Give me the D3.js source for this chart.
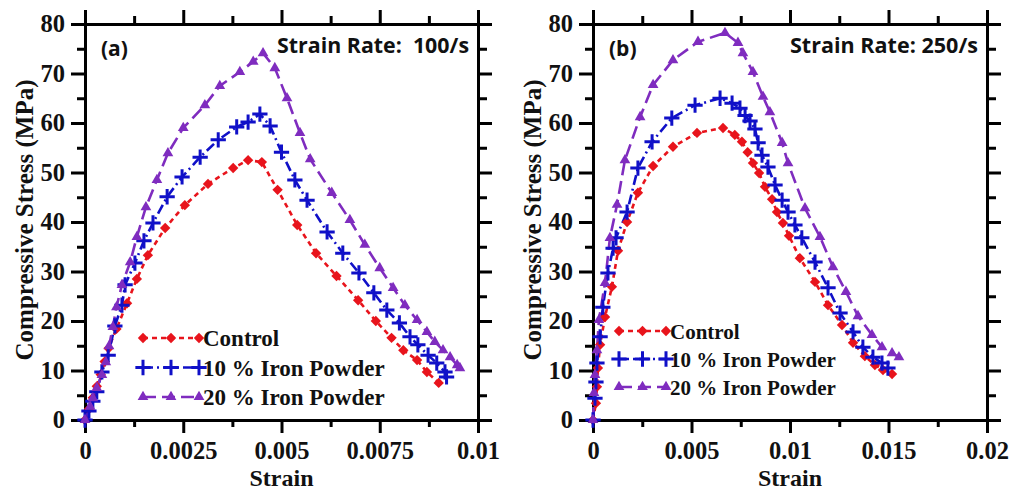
<!DOCTYPE html>
<html>
<head>
<meta charset="utf-8">
<script src="https://cdnjs.cloudflare.com/ajax/libs/d3/7.8.5/d3.min.js"></script>
<style>
  body { margin: 0; background: #fff; }
  .tick text { font-family: "Liberation Serif", "Times New Roman", serif; font-weight: bold; font-size: 24.5px; fill: #111; }
  .axis path, .axis line { stroke: #000; stroke-width: 3; }
  .title { font-family: "Liberation Serif", "Times New Roman", serif; font-weight: bold; font-size: 25px; fill: #111; }
  .xtitle { font-size: 24px; }
  .leg { font-family: "Liberation Serif", "Times New Roman", serif; font-weight: bold; fill: #111; }
  .note { font-family: "Open Sans", sans-serif; font-weight: bold; font-size: 21px; fill: #111; white-space: pre; }
</style>
</head>
<body>
<svg id="chart" width="1010" height="491"></svg>
<script>
// values: [strain, stress MPa]
var controlA = [[0,0],[0.0001,2.2],[0.0002,4.5],[0.0003,6.8],[0.0004,9.2],[0.0005,11.8],[0.0006,14.5],[0.0008,18.4],[0.00107,23.6],[0.00132,28.5],[0.0016,33.3],[0.00204,38.8],[0.00254,43.4],[0.00313,47.7],[0.00377,50.9],[0.00415,52.5],[0.0045,52.1],[0.0049,46.5],[0.0054,39.4],[0.00588,33.7],[0.0064,29.1],[0.00695,24.2],[0.0074,20.0],[0.0078,16.6],[0.0081,14.1],[0.00845,12.1],[0.0087,9.7],[0.009,7.5]];
var tenA = [[0,0],[0.0001,1.8],[0.0002,3.8],[0.0003,5.7],[0.00043,9.7],[0.00059,13.1],[0.00076,19],[0.00094,23.2],[0.00102,27.3],[0.00127,31.7],[0.0015,36.2],[0.00173,39.8],[0.00209,45.1],[0.00247,49.1],[0.00293,53.1],[0.00339,56.6],[0.00386,59.2],[0.00415,60.2],[0.00445,61.8],[0.00471,59.4],[0.005,54.1],[0.00534,48.5],[0.00565,44.4],[0.00616,38.0],[0.00656,33.7],[0.00697,29.7],[0.00735,25.7],[0.00768,22.2],[0.008,19.6],[0.00827,16.8],[0.00847,15.2],[0.00873,13.1],[0.00895,11.5],[0.00916,9.7],[0.0092,8.7]];
var twentyA = [[0,0],[0.00013,2.7],[0.0002,4.4],[0.0003,6.5],[0.00043,9.1],[0.00053,11.7],[0.00061,14.9],[0.00071,18.8],[0.0008,22.8],[0.00094,27.3],[0.00115,31.9],[0.00132,37],[0.00155,43],[0.00183,48.5],[0.00211,53.9],[0.0025,59],[0.00305,63.6],[0.00343,67.5],[0.00394,70.3],[0.00428,72.4],[0.00453,74.1],[0.00483,71.1],[0.00514,65],[0.00547,58],[0.00573,52.7],[0.00628,45.9],[0.00674,40.4],[0.00712,35.4],[0.0075,30.7],[0.00784,26.7],[0.00814,23.2],[0.00845,20.2],[0.0087,17.8],[0.0089,15.8],[0.00911,14.1],[0.00929,12.7],[0.00947,11.1],[0.00954,10.5]];

var controlB = [[0,0],[0.00015,3.4],[0.0002,6.7],[0.00025,10.5],[0.00036,15.2],[0.00061,20.8],[0.00096,26.9],[0.00127,34.2],[0.00173,40],[0.00228,45.9],[0.00305,51.3],[0.00406,55.2],[0.00528,58],[0.0066,59],[0.0072,57.6],[0.00756,56.2],[0.00785,54.1],[0.00812,51.9],[0.00843,49.9],[0.00873,47.1],[0.00909,44.6],[0.00934,42],[0.00964,39.8],[0.00995,37.2],[0.0105,32.7],[0.01127,27.9],[0.01193,23.2],[0.01264,19.2],[0.0132,15.6],[0.0138,12.9],[0.01431,11.1],[0.01472,10.1],[0.01518,9.3]];
var tenB = [[0,0],[0.0001,4.4],[0.00015,7.7],[0.0002,11.5],[0.00036,16.8],[0.0005,22.8],[0.00076,29.7],[0.00102,34.7],[0.00117,36.8],[0.00173,42],[0.00228,50.9],[0.003,56.2],[0.004,61],[0.00518,63.6],[0.00645,65],[0.00706,64],[0.00746,63],[0.00772,61.5],[0.00797,60.4],[0.00822,58.8],[0.00838,56],[0.00858,53.5],[0.00888,51.1],[0.00924,47.5],[0.0096,44.4],[0.0099,42],[0.01025,39.4],[0.0106,36.8],[0.01127,31.9],[0.01193,26.7],[0.01254,21.6],[0.0132,17.8],[0.0137,14.7],[0.01421,12.7],[0.01467,11.5],[0.01497,10.5]];
var twentyB = [[0,0],[0.00005,5.5],[0.0001,9.1],[0.0002,14.1],[0.0003,20.2],[0.00061,27.7],[0.00086,36.8],[0.00122,43.5],[0.00162,52.5],[0.00239,61.2],[0.00305,67.7],[0.00406,72.7],[0.00533,76.4],[0.0067,78.2],[0.00736,76.2],[0.00761,74.1],[0.00812,70.3],[0.00863,65.3],[0.00898,62.2],[0.0096,56],[0.0099,51.9],[0.01076,42.8],[0.01152,37],[0.01218,30.9],[0.01284,25.9],[0.01345,21],[0.01416,17.2],[0.01467,14.7],[0.01518,13.5],[0.01553,12.7]];

var seriesNames = ["Control", "10 % Iron Powder", "20 % Iron Powder"];
var seriesColors = ["#e8141c", "#1010c8", "#7f2cbf"];
var seriesDash = ["5,4", "10,4,2,4", "13,6"];
var seriesShape = ["diamond", "plus", "triangle"];

var yTicks = [0,10,20,30,40,50,60,70,80];
var xTicksA = [0, 0.0025, 0.005, 0.0075, 0.01];
var xLabelsA = ["0", "0.0025", "0.005", "0.0075", "0.01"];
var xTicksB = [0, 0.005, 0.01, 0.015, 0.02];
var xLabelsB = ["0", "0.005", "0.01", "0.015", "0.02"];

var svg = d3.select('#chart');

function drawPanel(p) {
    var x = d3.scaleLinear().domain(p.xDomain).range([p.l, p.r]);
    var y = d3.scaleLinear().domain([0, 80]).range([p.b, p.t]);
    var g = svg.append('g');

    // minor tick positions (halfway between majors)
    var xMinor = [], yMinor = [];
    for (var i = 0; i < p.xTicks.length - 1; i++) xMinor.push((p.xTicks[i] + p.xTicks[i+1]) / 2);
    for (var j = 0; j < yTicks.length - 1; j++) yMinor.push((yTicks[j] + yTicks[j+1]) / 2);

    var fmtX = function(d){ return p.xLabels[p.xTicks.indexOf(d)]; };

    g.append('g').attr('class','axis').attr('transform','translate(0,'+p.b+')')
        .call(d3.axisBottom(x).tickValues(p.xTicks).tickFormat(fmtX).tickSize(13).tickSizeOuter(0).tickPadding(9));
    g.append('g').attr('class','axis').attr('transform','translate(0,'+p.b+')')
        .call(d3.axisBottom(x).tickValues(xMinor).tickFormat('').tickSize(7).tickSizeOuter(0));
    g.append('g').attr('class','axis').attr('transform','translate(0,'+p.t+')')
        .call(d3.axisTop(x).tickValues(p.xTicks).tickFormat('').tickSize(14).tickSizeOuter(0));
    g.append('g').attr('class','axis').attr('transform','translate(0,'+p.t+')')
        .call(d3.axisTop(x).tickValues(xMinor).tickFormat('').tickSize(8).tickSizeOuter(0));

    g.append('g').attr('class','axis').attr('transform','translate('+p.l+',0)')
        .call(d3.axisLeft(y).tickValues(yTicks).tickSize(14).tickSizeOuter(0).tickPadding(6));
    g.append('g').attr('class','axis').attr('transform','translate('+p.l+',0)')
        .call(d3.axisLeft(y).tickValues(yMinor).tickFormat('').tickSize(8).tickSizeOuter(0));
    g.append('g').attr('class','axis').attr('transform','translate('+p.r+',0)')
        .call(d3.axisRight(y).tickValues(yTicks).tickFormat('').tickSize(14).tickSizeOuter(0));
    g.append('g').attr('class','axis').attr('transform','translate('+p.r+',0)')
        .call(d3.axisRight(y).tickValues(yMinor).tickFormat('').tickSize(9).tickSizeOuter(0));

    g.selectAll('.axis .domain').attr('stroke-width', 3).attr('stroke-linecap', 'square');

    // axis titles
    g.append('text').attr('class','title xtitle').attr('text-anchor','middle')
        .attr('x', (p.l + p.r) / 2).attr('y', 485.5).text('Strain');
    g.append('text').attr('class','title').attr('text-anchor','middle')
        .attr('transform', 'translate(' + (p.l - 52) + ',' + ((p.t + p.b) / 2 - 2) + ') rotate(-90)')
        .text('Compressive Stress (MPa)');

    // panel notes
    g.append('text').attr('class','note').attr('x', p.l + 16).attr('y', 56).text(p.tag);
    g.append('text').attr('class','note').attr('text-anchor','end')
        .attr('x', p.r - 9).attr('y', 53).attr('textLength', p.noteW).attr('lengthAdjust','spacingAndGlyphs')
        .text(p.note);

    var line = d3.line().x(function(d){ return x(d[0]); }).y(function(d){ return y(d[1]); });

    var plot = g.append('g');
    p.series.forEach(function(data, k) {
        plot.append('path').datum(data)
            .attr('d', line)
            .attr('fill', 'none')
            .attr('stroke', seriesColors[k])
            .attr('stroke-width', 2.6)
            .attr('stroke-dasharray', seriesDash[k]);
    });
    p.series.forEach(function(data, k) {
        drawMarkers(plot, data.map(function(d){ return [x(d[0]), y(d[1])]; }), k);
    });

    // legend
    var leg = g.append('g');
    seriesNames.forEach(function(name, k) {
        var ly = p.legY + k * p.legGap;
        leg.append('line').attr('x1', p.legX).attr('x2', p.legX + p.legW)
            .attr('y1', ly).attr('y2', ly)
            .attr('stroke', seriesColors[k]).attr('stroke-width', 2.6)
            .attr('stroke-dasharray', seriesDash[k]);
        drawMarkers(leg, [[p.legX, ly], [p.legX + p.legW / 2, ly], [p.legX + p.legW, ly]], k);
        leg.append('text').attr('class','leg')
            .attr('x', p.legX + p.legW + 4).attr('y', ly + 8)
            .style('font-size', p.legFont + 'px')
            .text(name);
    });
}

function drawMarkers(parent, pts, k) {
    var shape = seriesShape[k], color = seriesColors[k];
    var sym, rot = 0, fill = color, stroke = 'none', sw = 0;
    if (shape == 'diamond') { sym = d3.symbol(d3.symbolSquare, 54); rot = 45; }
    else if (shape == 'plus') { sym = d3.symbol(d3.symbolPlus, 78); fill = 'none'; stroke = color; sw = 3; }
    else { sym = d3.symbol(d3.symbolTriangle, 50); }
    parent.selectAll(null)
        .data(pts)
        .enter()
        .append('path')
        .attr('d', sym())
        .attr('transform', function(d){ return 'translate(' + d[0] + ',' + d[1] + ') rotate(' + rot + ')'; })
        .attr('fill', fill)
        .attr('stroke', stroke)
        .attr('stroke-width', sw);
}

drawPanel({
    l: 85, r: 478, t: 24, b: 420,
    xDomain: [0, 0.01], xTicks: xTicksA, xLabels: xLabelsA,
    series: [controlA, tenA, twentyA],
    tag: '(a)', note: 'Strain Rate:  100/s', noteW: 192,
    legX: 143, legW: 56, legY: 338, legGap: 29.5, legFont: 23
});
drawPanel({
    l: 593, r: 987, t: 24, b: 420,
    xDomain: [0, 0.02], xTicks: xTicksB, xLabels: xLabelsB,
    series: [controlB, tenB, twentyB],
    tag: '(b)', note: 'Strain Rate: 250/s', noteW: 188,
    legX: 619, legW: 47, legY: 331, legGap: 28, legFont: 21
});
</script>
</body>
</html>
